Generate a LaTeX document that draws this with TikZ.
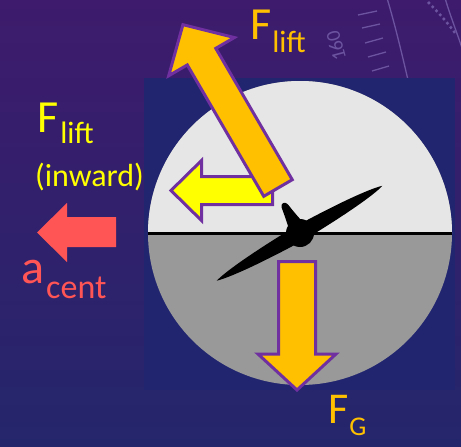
\documentclass[tikz,border=0pt]{standalone}
\usepackage{fontspec}
\setmainfont{Carlito}
\definecolor{bgtop}{RGB}{62,27,108}
\definecolor{bgbot}{RGB}{36,38,108}
\definecolor{navybox}{RGB}{33,37,112}
\definecolor{skyfill}{RGB}{230,230,230}
\definecolor{groundfill}{RGB}{153,153,153}
\definecolor{arrorange}{RGB}{255,192,0}
\definecolor{arryellow}{RGB}{255,255,0}
\definecolor{arrpurple}{RGB}{112,48,160}
\definecolor{arrred}{RGB}{255,85,85}
\definecolor{dialcol}{RGB}{108,84,160}
\newcommand{\fsz}[1]{\fontsize{#1}{#1}\selectfont}
\begin{document}
\begin{tikzpicture}[x=1pt,y=-1pt,
  outlined/.style={draw=arrpurple, line width=3pt, line join=miter, miter limit=10},
  orangebox/.style={outlined, fill=arrorange},
  yellowbox/.style={outlined, fill=arryellow},
  redbox/.style={fill=arrred},
  dialline/.style={draw=dialcol, line width=1.3pt},
  lbl/.style={inner sep=0pt, anchor=base west}]
% background
\shade[top color=bgtop, bottom color=bgbot] (0,0) rectangle (461,447);
\useasboundingbox (0,0) rectangle (461,447);
% faint dial decoration
\draw[dialline] (387,-2) .. controls (395,25) and (401,50) .. (408,80);
\draw[dialline] (445,-2) .. controls (450,15) and (456,30) .. (462,48);
\draw[draw=dialcol, line width=2.5pt, dash pattern=on 2.5pt off 3pt] (428,2) .. controls (438,12) and (447,22) .. (455,33);
\draw[dialline] (358,15) -- (377,11);
\draw[dialline] (362,28) -- (380,24);
\draw[dialline] (365,43) -- (383,38);
\draw[dialline] (368,57) -- (386,52);
\draw[dialline] (372,71) -- (389,66);
\node[dialcol, inner sep=0pt, rotate=105] (dialtext) at (336,46) {\fsz{20}160};
% inner panel
\fill[navybox] (144,78) rectangle (455,390);
% horizon disc
\fill[groundfill] (300,233) circle[radius=152];
\begin{scope}
  \clip (140,70) rectangle (460,233);
  \fill[skyfill] (300,233) circle[radius=152];
\end{scope}
\draw[line width=3pt] (148,233) -- (452,233);
% airplane
\begin{scope}[shift={(300,233)}, rotate=29.8]
  \fill (95,0) .. controls (82,-4) and (45,-7) .. (0,-8)
        .. controls (-45,-7) and (-82,-4) .. (-96,0)
        .. controls (-82,4) and (-45,7) .. (0,8)
        .. controls (45,7) and (82,4) .. (95,0) -- cycle;
\end{scope}
\begin{scope}[shift={(300,233)}, rotate=119.5]
  \fill (0,-10) .. controls (12,-6.5) and (25,-4.5) .. (31,-3.5)
        .. controls (35.5,-2.5) and (35.5,2.5) .. (31,3.5)
        .. controls (25,4.5) and (12,6.5) .. (0,10) -- cycle;
\end{scope}
\fill (300,233) circle[radius=14];
% inward lift arrow (yellow)
\draw[yellowbox] (272.5,176.5) -- (201.5,176.5) -- (201.5,160.5) -- (171,190.5)
  -- (201.5,220.5) -- (201.5,204.5) -- (272.5,204.5) -- cycle;
% lift arrow (orange)
\begin{scope}[shift={(278,188)}, rotate=120.2]
  \draw[orangebox] (0,-16.5) -- (152,-16.5) -- (152,-38) -- (189,0)
    -- (152,38) -- (152,16.5) -- (0,16.5) -- cycle;
\end{scope}
% gravity arrow
\draw[orangebox] (278.5,261.5) -- (315.5,261.5) -- (315.5,354) -- (336,354)
  -- (297,390) -- (258,354) -- (278.5,354) -- cycle;
% centripetal acceleration arrow
\fill[redbox] (116,217) -- (67,217) -- (67,203) -- (37,232.5) -- (67,262)
  -- (67,247) -- (116,247) -- cycle;
% labels
\node[lbl, text=arrorange] (flifttop) at (250,39)
  {\fsz{46}F\hspace{1pt}\raisebox{-13pt}{\fsz{31}lift}};
\node[lbl, text=arryellow] (fliftleft) at (37,132)
  {\fsz{46}F\hspace{2pt}\raisebox{-11pt}{\fsz{31}lift}};
\node[lbl, text=arryellow] (inward) at (35,186) {\fsz{32}(inward)};
\node[lbl, text=arrred] (acent) at (21,283)
  {\fsz{48}a\hspace{2pt}\raisebox{-15pt}{\fsz{34}cent}};
\node[lbl, text=arrorange] (fg) at (328,423)
  {\fsz{44}F\hspace{1pt}\raisebox{-12pt}{\fsz{27}G}};
\end{tikzpicture}
\end{document}
